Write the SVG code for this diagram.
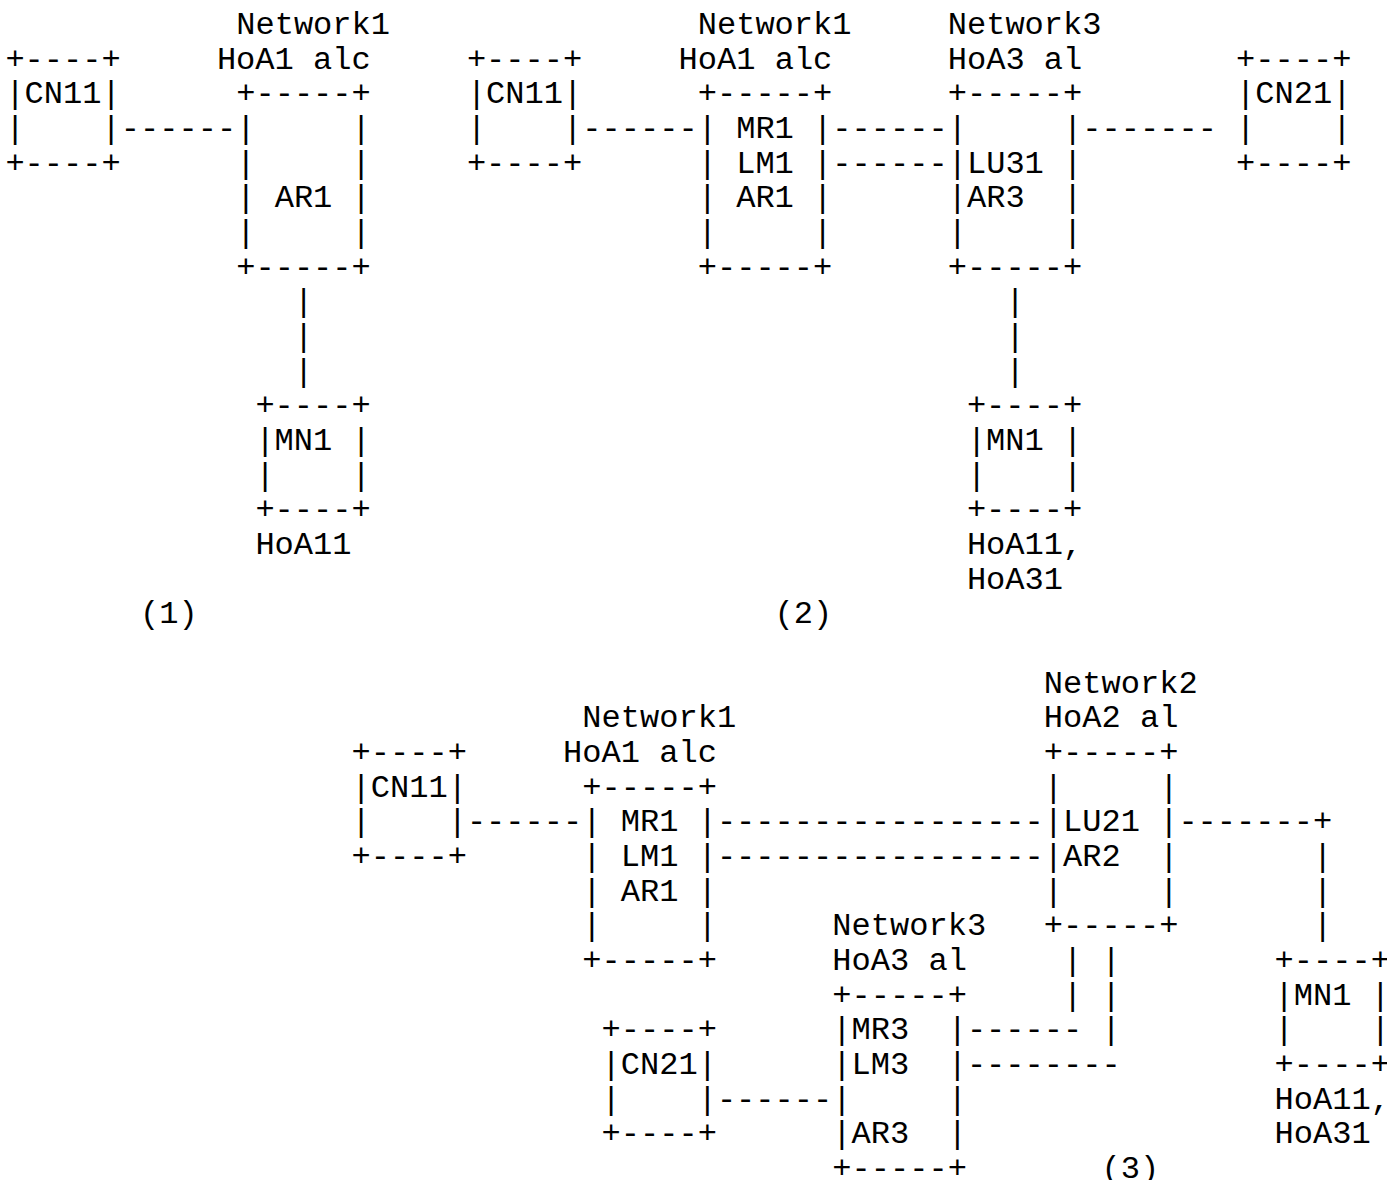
<svg xmlns="http://www.w3.org/2000/svg" width="1387" height="1180" viewBox="0 0 1387 1180" xml:space="preserve">
<style>
text { font-family: "Liberation Mono", "DejaVu Sans Mono", monospace; font-size: 32.05px; fill: #000; white-space: pre; }
</style>
<rect width="1387" height="1180" fill="#fff"/>
<g id="fig1">
  <g id="cn11-1"><text><tspan x="5.4" y="68.7">+----+</tspan><tspan x="5.4" y="103.3">|CN11|</tspan><tspan x="5.4" y="138">|    |</tspan><tspan x="5.4" y="172.7">+----+</tspan></text></g>
  <g id="ar1-1"><text><tspan x="236.2" y="34">Network1</tspan><tspan x="216.9" y="68.7">HoA1 alc</tspan><tspan x="236.2" y="103.3">+-----+</tspan><tspan x="236.2" y="138">|     |</tspan><tspan x="236.2" y="172.7">|     |</tspan><tspan x="236.2" y="207.4">| AR1 |</tspan><tspan x="236.2" y="242">|     |</tspan><tspan x="236.2" y="276.7">+-----+</tspan></text></g>
  <g id="mn1-1"><text><tspan x="255.4" y="415.4">+----+</tspan><tspan x="255.4" y="450">|MN1 |</tspan><tspan x="255.4" y="484.7">|    |</tspan><tspan x="255.4" y="519.4">+----+</tspan><tspan x="255.4" y="554.1">HoA11</tspan></text></g>
  <text id="cap1" x="140.0" y="623.4">(1)</text>
</g>
<g id="fig2">
  <g id="cn11-2"><text><tspan x="466.9" y="68.7">+----+</tspan><tspan x="466.9" y="103.3">|CN11|</tspan><tspan x="466.9" y="138">|    |</tspan><tspan x="466.9" y="172.7">+----+</tspan></text></g>
  <g id="mr1-2"><text><tspan x="697.7" y="34">Network1</tspan><tspan x="678.5" y="68.7">HoA1 alc</tspan><tspan x="697.7" y="103.3">+-----+</tspan><tspan x="697.7" y="138">| MR1 |</tspan><tspan x="697.7" y="172.7">| LM1 |</tspan><tspan x="697.7" y="207.4">| AR1 |</tspan><tspan x="697.7" y="242">|     |</tspan><tspan x="697.7" y="276.7">+-----+</tspan></text></g>
  <g id="lu31-2"><text><tspan x="947.7" y="34">Network3</tspan><tspan x="947.7" y="68.7">HoA3 al</tspan><tspan x="947.7" y="103.3">+-----+</tspan><tspan x="947.7" y="138">|     |</tspan><tspan x="947.7" y="172.7">|LU31 |</tspan><tspan x="947.7" y="207.4">|AR3  |</tspan><tspan x="947.7" y="242">|     |</tspan><tspan x="947.7" y="276.7">+-----+</tspan></text></g>
  <g id="cn21-2"><text><tspan x="1236.1" y="68.7">+----+</tspan><tspan x="1236.1" y="103.3">|CN21|</tspan><tspan x="1236.1" y="138">|    |</tspan><tspan x="1236.1" y="172.7">+----+</tspan></text></g>
  <g id="mn1-2"><text><tspan x="966.9" y="415.4">+----+</tspan><tspan x="966.9" y="450">|MN1 |</tspan><tspan x="966.9" y="484.7">|    |</tspan><tspan x="966.9" y="519.4">+----+</tspan><tspan x="966.9" y="554.1">HoA11,</tspan><tspan x="966.9" y="588.7">HoA31</tspan></text></g>
  <text id="cap2" x="774.6" y="623.4">(2)</text>
</g>
<g id="fig3">
  <g id="cn11-3"><text><tspan x="351.5" y="762.1">+----+</tspan><tspan x="351.5" y="796.7">|CN11|</tspan><tspan x="351.5" y="831.4">|    |</tspan><tspan x="351.5" y="866.1">+----+</tspan></text></g>
  <g id="mr1-3"><text><tspan x="582.3" y="727.4">Network1</tspan><tspan x="563.1" y="762.1">HoA1 alc</tspan><tspan x="582.3" y="796.7">+-----+</tspan><tspan x="582.3" y="831.4">| MR1 |</tspan><tspan x="582.3" y="866.1">| LM1 |</tspan><tspan x="582.3" y="900.8">| AR1 |</tspan><tspan x="582.3" y="935.4">|     |</tspan><tspan x="582.3" y="970.1">+-----+</tspan></text></g>
  <g id="lu21-3"><text><tspan x="1043.8" y="692.7">Network2</tspan><tspan x="1043.8" y="727.4">HoA2 al</tspan><tspan x="1043.8" y="762.1">+-----+</tspan><tspan x="1043.8" y="796.7">|     |</tspan><tspan x="1043.8" y="831.4">|LU21 |</tspan><tspan x="1043.8" y="866.1">|AR2  |</tspan><tspan x="1043.8" y="900.8">|     |</tspan><tspan x="1043.8" y="935.4">+-----+</tspan></text></g>
  <g id="mr3-3"><text><tspan x="832.3" y="935.4">Network3</tspan><tspan x="832.3" y="970.1">HoA3 al</tspan><tspan x="832.3" y="1004.8">+-----+</tspan><tspan x="832.3" y="1039.4">|MR3  |</tspan><tspan x="832.3" y="1074.1">|LM3  |</tspan><tspan x="832.3" y="1108.8">|     |</tspan><tspan x="832.3" y="1143.4">|AR3  |</tspan><tspan x="832.3" y="1178.1">+-----+</tspan></text></g>
  <g id="cn21-3"><text><tspan x="601.5" y="1039.4">+----+</tspan><tspan x="601.5" y="1074.1">|CN21|</tspan><tspan x="601.5" y="1108.8">|    |</tspan><tspan x="601.5" y="1143.4">+----+</tspan></text></g>
  <g id="mn1-3"><text><tspan x="1274.6" y="970.1">+----+</tspan><tspan x="1274.6" y="1004.8">|MN1 |</tspan><tspan x="1274.6" y="1039.4">|    |</tspan><tspan x="1274.6" y="1074.1">+----+</tspan><tspan x="1274.6" y="1108.8">HoA11,</tspan><tspan x="1274.6" y="1143.4">HoA31</tspan></text></g>
  <text id="cap3" x="1101.5" y="1178.1">(3)</text>
</g>
<g id="connectors">
  <text><tspan x="120.8" y="138">------</tspan><tspan x="293.9" y="311.4">|</tspan><tspan x="293.9" y="346">|</tspan><tspan x="293.9" y="380.7">|</tspan></text>
  <text><tspan x="582.3" y="138">------</tspan><tspan x="832.3" y="138">------</tspan><tspan x="832.3" y="172.7">------</tspan><tspan x="1082.3" y="138">-------</tspan><tspan x="1005.4" y="311.4">|</tspan><tspan x="1005.4" y="346">|</tspan><tspan x="1005.4" y="380.7">|</tspan></text>
  <text><tspan x="466.9" y="831.4">------</tspan><tspan x="716.9" y="831.4">-----------------</tspan><tspan x="716.9" y="866.1">-----------------</tspan><tspan x="1178.4" y="831.4">-------+</tspan><tspan x="1313.0" y="866.1">|</tspan><tspan x="1313.0" y="900.8">|</tspan><tspan x="1313.0" y="935.4">|</tspan><tspan x="1063.1" y="970.1">|</tspan><tspan x="1063.1" y="1004.8">|</tspan><tspan x="1101.5" y="970.1">|</tspan><tspan x="1101.5" y="1004.8">|</tspan><tspan x="1101.5" y="1039.4">|</tspan><tspan x="966.9" y="1039.4">------</tspan><tspan x="966.9" y="1074.1">--------</tspan><tspan x="716.9" y="1108.8">------</tspan></text>
</g>
</svg>
